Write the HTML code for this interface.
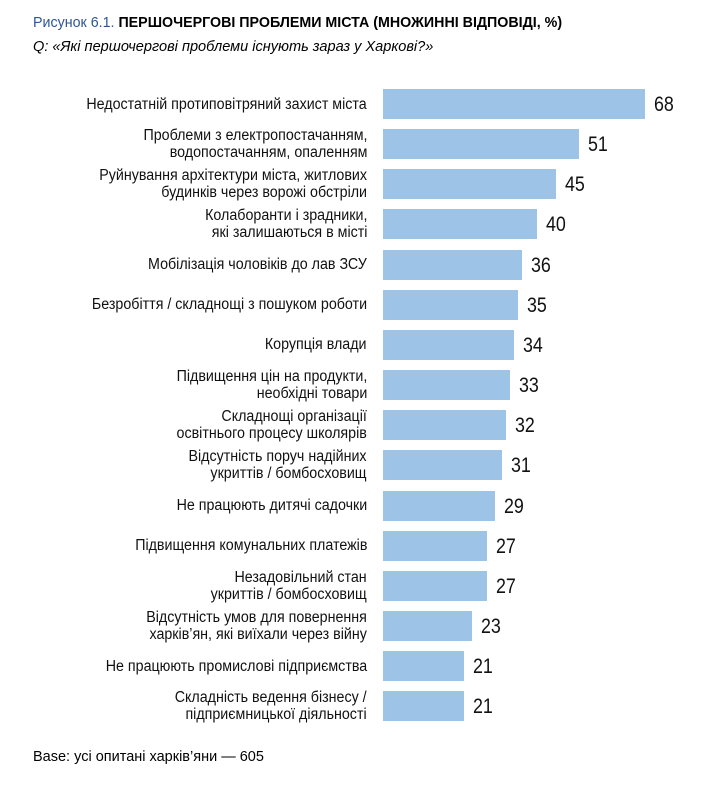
<!DOCTYPE html>
<html><head><meta charset="utf-8"><style>
body{margin:0;width:715px;height:789px;background:#fff;position:relative;overflow:hidden;font-family:"Liberation Sans","DejaVu Sans",sans-serif;}
.t{position:absolute;left:33px;top:14px;font-size:15px;color:#000;white-space:nowrap;transform:scaleX(0.95);transform-origin:left}
.t b{font-weight:bold}.t span{color:#2f5597}
.s{position:absolute;left:33px;top:38px;font-size:15px;font-style:italic;white-space:nowrap;transform:scaleX(0.97);transform-origin:left}
.bar{position:absolute;left:383px;height:30px;background:#9dc3e6}
.v{position:absolute;font-size:21px;color:#111;line-height:30px;transform:scaleX(0.85);transform-origin:left}
.l{position:absolute;right:348px;font-size:15.5px;line-height:17px;text-align:right;color:#111;white-space:nowrap;transform:scaleX(0.92);transform-origin:right center;display:flex;align-items:center;justify-content:flex-end;height:40px}
.b{position:absolute;left:33px;top:749px;font-size:14.5px;white-space:nowrap}
</style></head><body>
<div class="t"><span>Рисунок 6.1.</span> <b>ПЕРШОЧЕРГОВІ ПРОБЛЕМИ МІСТА (МНОЖИННІ ВІДПОВІДІ, %)</b></div>
<div class="s">Q: «Які першочергові проблеми існують зараз у Харкові?»</div>
<div id="c"></div>
<div class="b">Base: усі опитані харків’яни — 605</div>
<script>
var d=[["Недостатній протиповітряний захист міста",68],["Проблеми з електропостачанням,<br>водопостачанням,  опаленням",51],["Руйнування архітектури міста, житлових<br>будинків через ворожі обстріли",45],["Колаборанти і зрадники,<br>які залишаються в місті",40],["Мобілізація чоловіків до лав ЗСУ",36],["Безробіття / складнощі з пошуком роботи",35],["Корупція влади",34],["Підвищення цін на продукти,<br>необхідні товари",33],["Складнощі організації<br>освітнього процесу школярів",32],["Відсутність поруч надійних<br>укриттів / бомбосховищ",31],["Не працюють дитячі садочки",29],["Підвищення комунальних платежів",27],["Незадовільний стан<br>укриттів / бомбосховищ",27],["Відсутність умов для повернення<br>харків’ян, які виїхали через війну",23],["Не працюють промислові підприємства",21],["Складність ведення бізнесу /<br>підприємницької діяльності",21]];
var h="";
d.forEach(function(r,i){var c=104+i*40.15;var w=r[1]*3.85;
h+='<div class="bar" style="top:'+(c-15)+'px;width:'+w+'px"></div>';
h+='<div class="v" style="top:'+(c-14)+'px;left:'+(383+w+9)+'px">'+r[1]+'</div>';
h+='<div class="l" style="top:'+(c-20)+'px"><div>'+r[0]+'</div></div>';});
document.getElementById("c").innerHTML=h;
</script>
</body></html>
